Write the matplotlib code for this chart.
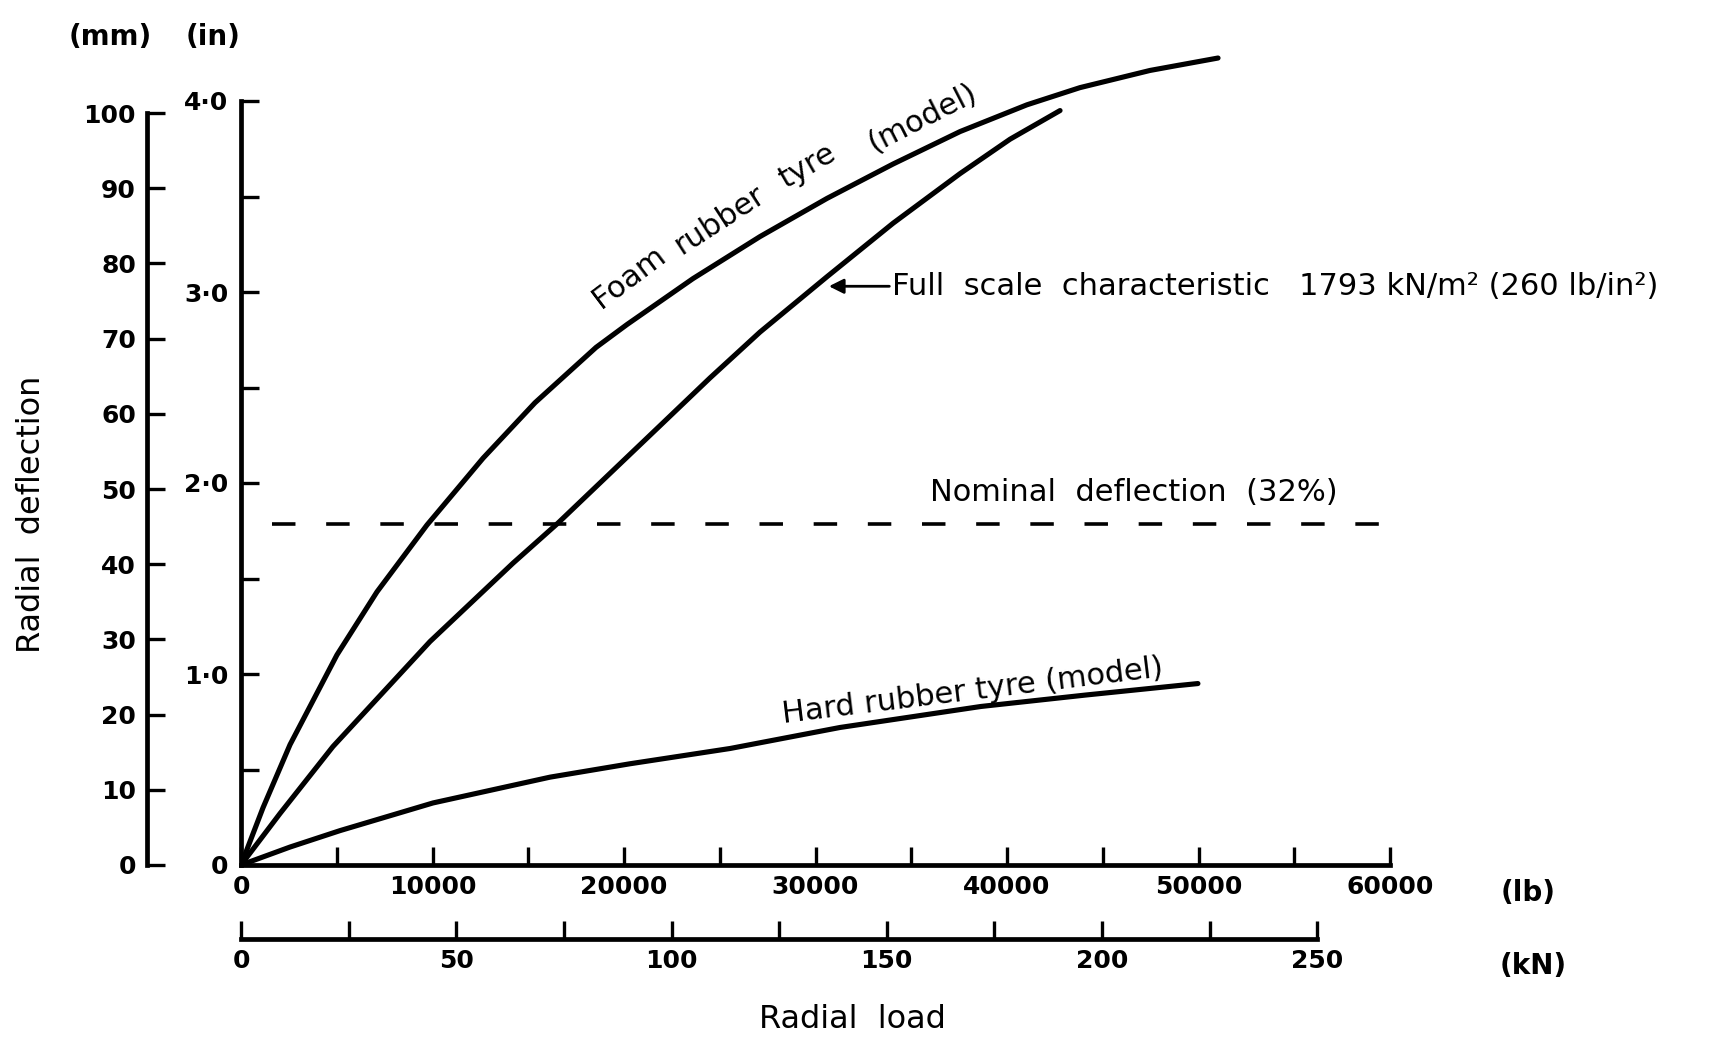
# Radial load vs radial deflection of model / full scale tyres
import matplotlib
matplotlib.use('Agg')
import matplotlib.pyplot as plt

# --- data (load in lb, deflection in inches) ---
foam_load = [0, 1150, 2560, 5010, 7100, 9710, 12640, 15350, 18540, 20160,
             23600, 27100, 30600, 34050, 37550, 41040, 43810, 47470, 51020]
foam_defl = [0, 0.30, 0.63, 1.10, 1.43, 1.78, 2.13, 2.42, 2.71, 2.83,
             3.07, 3.29, 3.49, 3.67, 3.84, 3.98, 4.07, 4.16, 4.225]

full_load = [0, 2040, 4800, 9870, 14200, 16550, 18900, 21880, 24490, 27100,
             30600, 34050, 37550, 40160, 42770]
full_defl = [0, 0.27, 0.62, 1.17, 1.58, 1.79, 2.015, 2.30, 2.55, 2.79,
             3.08, 3.36, 3.62, 3.80, 3.95]

hard_load = [0, 2560, 5170, 10030, 16140, 20310, 25540, 31280, 38640, 44120, 49970]
hard_defl = [0, 0.094, 0.18, 0.325, 0.46, 0.53, 0.61, 0.72, 0.83, 0.89, 0.95]

nominal_defl = 1.785          # in (32 %)
nominal_load = [1620, 59600]  # lb, extent of the dashed line

lb_ticks = [0, 10000, 20000, 30000, 40000, 50000, 60000]
lb_minor = [5000, 15000, 25000, 35000, 45000, 55000]
kn_ticks = [0, 50, 100, 150, 200, 250]
kn_minor = [25, 75, 125, 175, 225]
in_ticks = [0, 1, 2, 3, 4]
in_labels = ['0', '1·0', '2·0', '3·0', '4·0']
in_minor = [0.5, 1.5, 2.5, 3.5]
mm_ticks = [0, 10, 20, 30, 40, 50, 60, 70, 80, 90, 100]

# label of the foam curve, word by word so it bends with the line
foam_words = ['Foam', 'rubber', 'tyre', '(model)']
foam_word_pos = [(20250, 3.08), (25000, 3.375), (29550, 3.66), (35600, 3.91)]
foam_word_rot = [37, 33, 30, 27]

LB_PER_KN = 224.809
MM_PER_IN = 25.4

W, H = 1735, 1039
fig = plt.figure(figsize=(W / 100, H / 100), dpi=100)
plt.rcParams['font.family'] = ['DejaVu Sans']

# pixel geometry of the main (lb / in) frame
x0, y0 = 241, 865
px_lb = 191.5 / 10000
px_in = 191.0
xmax, ymax = 62000, 4.5
w, h = xmax * px_lb, ymax * px_in
rect = [x0 / W, (H - y0) / H, w / W, h / H]

LW = 3.4
TICKW = 2.4
TICKL = 13
NUMFS = 18

ax = fig.add_axes(rect)
ax.set_xlim(0, xmax)
ax.set_ylim(0, ymax)
ax.patch.set_alpha(0)
for s in ['top', 'right']:
    ax.spines[s].set_visible(False)
for s in ['left', 'bottom']:
    ax.spines[s].set_linewidth(LW)
    ax.spines[s].set_capstyle('projecting')
ax.spines['left'].set_bounds(0, 4)
ax.spines['bottom'].set_bounds(0, 60000)

ax.set_xticks(lb_ticks)
ax.set_xticklabels([str(v) for v in lb_ticks])
ax.set_xticks(lb_minor, minor=True)
ax.set_yticks(in_ticks)
ax.set_yticklabels(in_labels)
ax.set_yticks(in_minor, minor=True)
ax.tick_params(which='both', direction='in', length=TICKL, width=TICKW)
ax.tick_params(axis='x', which='major', pad=7, labelsize=NUMFS)
ax.tick_params(axis='y', which='major', pad=9, labelsize=NUMFS)
for t in ax.get_xticklabels() + ax.get_yticklabels():
    t.set_fontweight('bold')

# curves
for xs, ys in [(foam_load, foam_defl), (full_load, full_defl), (hard_load, hard_defl)]:
    ax.plot(xs, ys, color='black', lw=3.7, solid_capstyle='round',
            solid_joinstyle='round')
ax.plot(nominal_load, [nominal_defl, nominal_defl], color='black', lw=2.6,
        dashes=(6.5, 8.5))

# annotations
TFS = 22
for word, (xw, yw), rot in zip(foam_words, foam_word_pos, foam_word_rot):
    ax.text(xw, yw, word, fontsize=TFS, rotation=rot, ha='center',
            va='center', rotation_mode='anchor')
ax.text(38220, 0.91, 'Hard rubber tyre (model)', fontsize=TFS, rotation=7,
        ha='center', va='center', rotation_mode='anchor')
ax.text(36000, 1.95, 'Nominal  deflection  (32%)', fontsize=TFS,
        ha='left', va='center')
ax.annotate('Full  scale  characteristic   1793 kN/m² (260 lb/in²)',
            xy=(30700, 3.03), xytext=(34000, 3.03), fontsize=TFS,
            ha='left', va='center',
            arrowprops=dict(arrowstyle='-|>', color='black', lw=2,
                            mutation_scale=22, shrinkA=0, shrinkB=0))

# mm axis (same scale, further left)
axmm = fig.add_axes(rect)
axmm.set_ylim(0, ymax * MM_PER_IN)
axmm.patch.set_alpha(0)
for s in ['top', 'right', 'bottom']:
    axmm.spines[s].set_visible(False)
axmm.spines['left'].set_position(('axes', (147 - x0) / w))
axmm.spines['left'].set_bounds(0, 100)
axmm.spines['left'].set_linewidth(LW)
axmm.xaxis.set_visible(False)
axmm.set_yticks(mm_ticks)
axmm.tick_params(axis='y', direction='in', length=TICKL, width=TICKW,
                 pad=8, labelsize=NUMFS)
for t in axmm.get_yticklabels():
    t.set_fontweight('bold')

# kN axis (same scale, below)
axkn = fig.add_axes(rect)
axkn.set_xlim(0, xmax / LB_PER_KN)
axkn.patch.set_alpha(0)
for s in ['top', 'right', 'left']:
    axkn.spines[s].set_visible(False)
axkn.spines['bottom'].set_position(('axes', -(939 - y0) / h))
axkn.spines['bottom'].set_bounds(0, 250)
axkn.spines['bottom'].set_linewidth(LW)
axkn.yaxis.set_visible(False)
axkn.set_xticks(kn_ticks)
axkn.set_xticks(kn_minor, minor=True)
axkn.tick_params(axis='x', which='both', direction='in', length=TICKL,
                 width=TICKW, pad=7, labelsize=NUMFS)
for t in axkn.get_xticklabels():
    t.set_fontweight('bold')

# unit and axis titles
UFS = 20
fig.text(110 / W, 1 - 37 / H, '(mm)', fontsize=UFS, fontweight='bold',
         ha='center', va='center')
fig.text(213 / W, 1 - 37 / H, '(in)', fontsize=UFS, fontweight='bold',
         ha='center', va='center')
fig.text(1528 / W, 1 - 893 / H, '(lb)', fontsize=UFS, fontweight='bold',
         ha='center', va='center')
fig.text(1533 / W, 1 - 966 / H, '(kN)', fontsize=UFS, fontweight='bold',
         ha='center', va='center')
fig.text(852 / W, 1 - 1019 / H, 'Radial  load', fontsize=23,
         ha='center', va='center')
fig.text(31 / W, 1 - 514 / H, 'Radial  deflection', fontsize=23,
         rotation=90, ha='center', va='center')

fig.savefig('out.png', dpi=100)
